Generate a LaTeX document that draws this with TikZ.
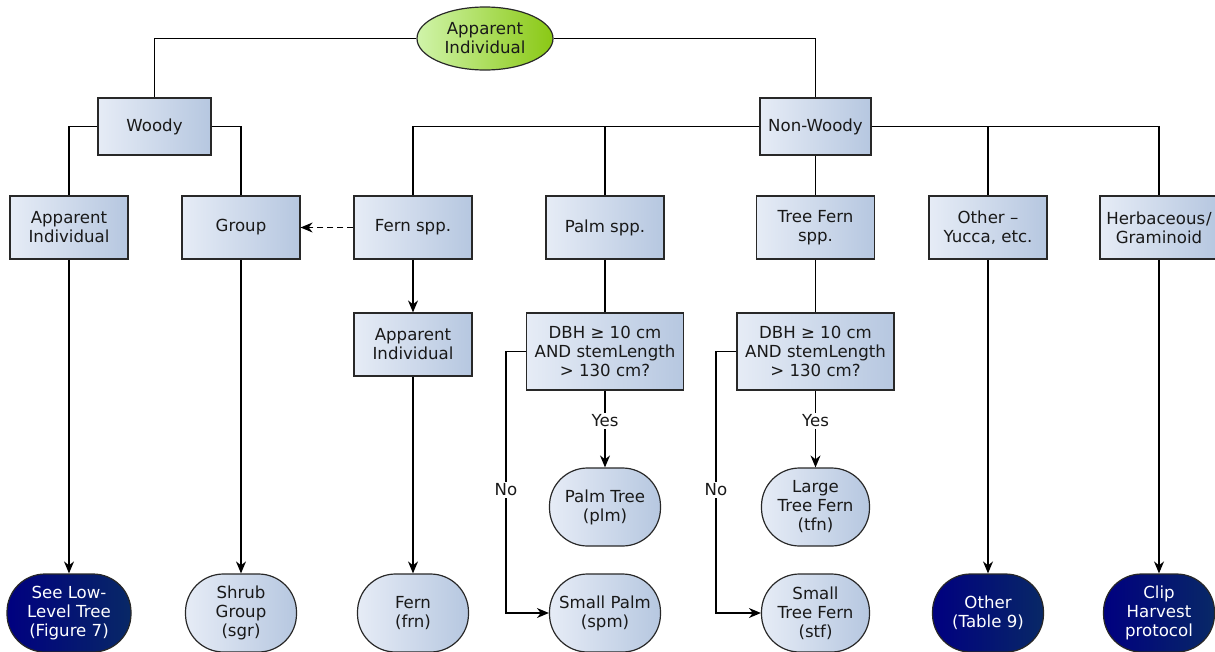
\documentclass[tikz,border=0pt]{standalone}
\usepackage{fontspec}
\setmainfont{DejaVu Sans}
\usetikzlibrary{shapes.geometric,arrows.meta}
\definecolor{boxl}{RGB}{230,236,246}
\definecolor{boxr}{RGB}{182,199,224}
\definecolor{navl}{RGB}{0,0,128}
\definecolor{navr}{RGB}{8,40,102}
\definecolor{grnl}{RGB}{208,244,170}
\definecolor{grnr}{RGB}{138,200,20}
\definecolor{edge}{RGB}{40,40,40}
\tikzset{
  lbl/.style={font=\fontsize{16.6}{19}\selectfont,align=center,text=black!90},
  box/.style={lbl,draw=edge,line width=1.2pt,left color=boxl,right color=boxr,minimum width=118pt,minimum height=63pt},
  endlight/.style={lbl,draw=edge,line width=1.2pt,left color=boxl,right color=boxr,rounded corners=38pt,minimum width=111pt,minimum height=78pt},
  enddark/.style={endlight,left color=navl,right color=navr,text=white},
  link/.style={line width=1.2pt,draw=black},
  arr/.style={link,-{Stealth[length=12pt,width=10pt]}}
}
\begin{document}
\begin{tikzpicture}[x=1pt,y=-1pt]
\useasboundingbox (0,0) rectangle (1215,651);

\node[lbl,ellipse,draw=edge,line width=1.2pt,left color=grnl,right color=grnr,minimum width=136pt,minimum height=63pt,inner sep=0pt] (top) at (485,38.5) {Apparent\\Individual};

\node[box,minimum width=113pt,minimum height=57pt] (woody) at (154.5,126.5) {Woody};
\node[box,minimum width=111pt,minimum height=57pt] (nonwoody) at (815.5,126.5) {Non-Woody};

\node[box] (ai1) at (69,227.5) {Apparent\\Individual};
\node[box] (grp) at (241,227.5) {Group};
\node[box] (fern) at (413,227.5) {Fern spp.};
\node[box] (palm) at (605,227.5) {Palm spp.};
\node[box] (tfern) at (815.5,227.5) {Tree Fern\\spp.};
\node[box] (other) at (988,227.5) {Other –\\Yucca, etc.};
\node[box] (herb) at (1159,227.5) {Herbaceous\kern1pt/\\Graminoid};

\node[box] (ai2) at (413,344.5) {Apparent\\Individual};
\node[box,minimum width=157pt,minimum height=77pt] (dbh1) at (605,351.5) {DBH ≥ 10 cm\\AND stemLength\\> 130 cm?};
\node[box,minimum width=157pt,minimum height=77pt] (dbh2) at (815.5,351.5) {DBH ≥ 10 cm\\AND stemLength\\> 130 cm?};

\node[lbl,fill=white,inner sep=2pt] (yes1) at (605,421) {Yes};
\node[lbl,fill=white,inner sep=2pt] (yes2) at (815.5,421) {Yes};
\node[lbl,fill=white,inner sep=2pt] (no1) at (506,490) {No};
\node[lbl,fill=white,inner sep=2pt] (no2) at (716,490) {No};

\node[endlight] (plm) at (605,507) {Palm Tree\\(plm)};
\node[endlight,minimum width=108pt] (tfn) at (815.5,507) {Large\\Tree Fern\\(tfn)};

\node[enddark,minimum width=124pt] (low) at (69,613) {See Low-\\Level Tree\\(Figure 7)};
\node[endlight] (sgr) at (241,613) {Shrub\\Group\\(sgr)};
\node[endlight] (frn) at (413,613) {Fern\\(frn)};
\node[endlight] (spm) at (605,613) {Small Palm\\(spm)};
\node[endlight,minimum width=108pt] (stf) at (815.5,613) {Small\\Tree Fern\\(stf)};
\node[enddark] (oth) at (988,613) {Other\\(Table 9)};
\node[enddark] (clip) at (1159,613) {Clip\\Harvest\\protocol};

\draw[link] (top.west) -| (woody);
\draw[link] (top.east) -| (nonwoody);
\draw[link] (woody.west) -| (ai1);
\draw[link] (woody.east) -| (grp);
\draw[link] (nonwoody.west) -| (fern);
\draw[link] (nonwoody.west) -| (palm);
\draw[link] (nonwoody) -- (tfern);
\draw[link] (nonwoody.east) -| (other);
\draw[link] (nonwoody.east) -| (herb);

\draw[arr] (ai1) -- (low);
\draw[arr] (grp) -- (sgr);
\draw[arr,dash pattern=on 6pt off 4pt] (fern) -- (grp);
\draw[arr] (fern) -- (ai2);
\draw[arr] (ai2) -- (frn);
\draw[link] (palm) -- (dbh1);
\draw[link] (tfern) -- (dbh2);
\draw[arr] (other) -- (oth);
\draw[arr] (herb) -- (clip);

\draw[link] (dbh1) -- (yes1);
\draw[arr] (yes1) -- (plm);
\draw[link] (dbh1.west) -| (no1);
\draw[arr] (no1) |- (spm);
\draw[link] (dbh2) -- (yes2);
\draw[arr] (yes2) -- (tfn);
\draw[link] (dbh2.west) -| (no2);
\draw[arr] (no2) |- (stf);
\end{tikzpicture}
\end{document}
